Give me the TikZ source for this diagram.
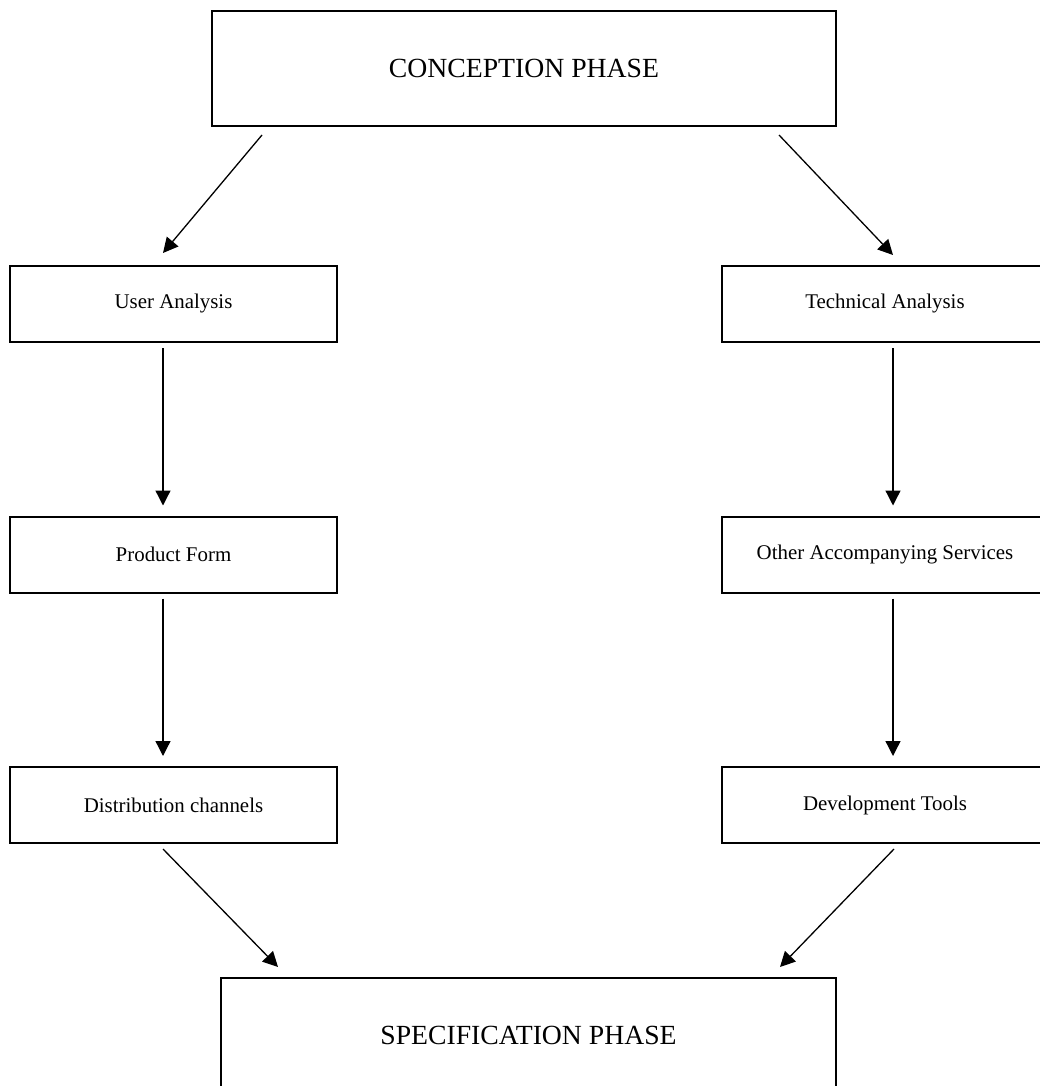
\documentclass[tikz,border=0pt]{standalone}
\usepackage{fontspec}
\setmainfont{Liberation Serif}
\usepackage{tikz}
\usetikzlibrary{arrows.meta}
\usetikzlibrary{positioning}
\tikzstyle{box} = [draw, line width = 2pt, rectangle, inner sep = 0]
\tikzstyle{phase box} = [box, minimum height = 115pt, font = \fontsize{27.7}{33}\selectfont]
\tikzstyle{task box} = [box, minimum width = 327pt, minimum height = 76pt, font = \fontsize{20.9}{25}\selectfont]
\tikzstyle{flow} = [line width = 1.3pt, -{Triangle[length = 15pt, width = 15pt]}]
\tikzstyle{flow picture} = [x = 1pt, y = -1pt]

\begin{document}
\begin{tikzpicture}[flow picture]
        \useasboundingbox (0, 0) rectangle (1039, 1086);

        \node [phase box, minimum width = 624pt] (conception) at (524, 68.5) {CONCEPTION PHASE};

        \node [task box] (user)      at (173.5, 304) {User Analysis};
        \node [task box] (form)      at (173.5, 554.5) {Product Form};
        \node [task box] (channels)  at (173.5, 805) {Distribution channels};

        \node [task box] (technical) at (885, 304) {Technical Analysis};
        \node [task box] (services)  at (885, 554.5) {Other Accompanying Services};
        \node [task box] (tools)     at (885, 805) {Development Tools};

        \node [phase box, minimum width = 615pt] (specification) at (528.5, 1035.5) {SPECIFICATION PHASE};

        % split into the two analyses
        \draw [flow] ([xshift = 51, yshift = -8]conception.south west) -- ([xshift = -10.5, yshift = 12]user.north);
        \draw [flow] ([xshift = -58, yshift = -8]conception.south east) -- ([xshift = 8, yshift = 10]technical.north);

        \foreach \a/\b/\s in {user/form/-10.5, form/channels/-10.5, technical/services/8, services/tools/8}
        {
            \draw [flow] ([xshift = \s, yshift = -5]\a.south) -- ([xshift = \s, yshift = 10]\b.north);
        }

        % join again
        \draw [flow] ([xshift = -10.5, yshift = -5]channels.south) -- ([xshift = 58, yshift = 10]specification.north west);
        \draw [flow] ([xshift = 9, yshift = -5]tools.south) -- ([xshift = -57, yshift = 10]specification.north east);
    \end{tikzpicture}
\end{document}
